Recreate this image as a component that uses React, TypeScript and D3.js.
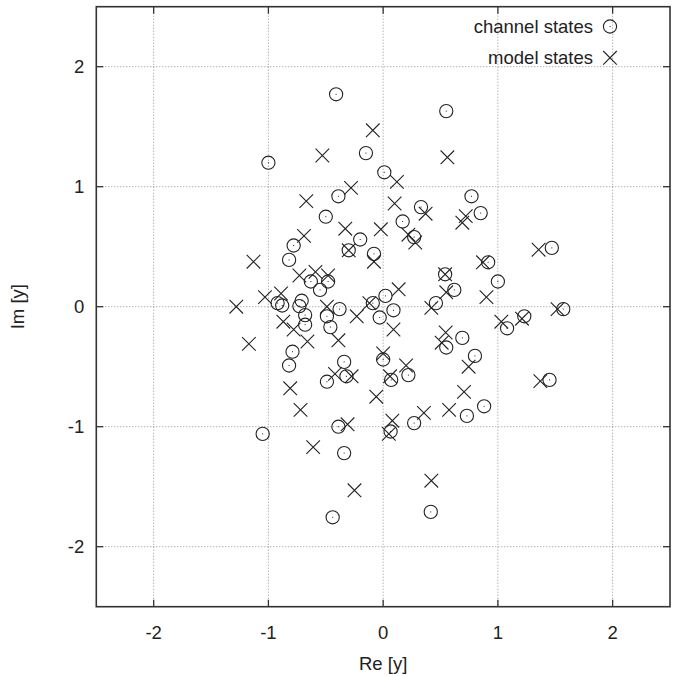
import React from "react";
import * as d3 from "d3";

// channel states (circles): [Re, Im]
const channelStates: [number, number][] = [
  [-0.41, 1.77], [-0.15, 1.28], [-1.0, 1.2], [0.01, 1.12], [-0.39, 0.92],
  [0.55, 1.63], [0.77, 0.92], [-0.5, 0.75], [-0.2, 0.56], [-0.78, 0.51],
  [-0.3, 0.47], [-0.08, 0.44], [-0.82, 0.39], [-0.63, 0.21], [-0.48, 0.21],
  [-0.55, 0.14], [0.02, 0.09], [-0.92, 0.03], [-0.88, 0.01], [-0.71, 0.05],
  [-0.73, 0.005], [-0.68, -0.07], [-0.68, -0.15], [-0.49, -0.08], [-0.38, -0.02],
  [-0.46, -0.17], [-0.09, 0.03], [-0.03, -0.09], [-0.79, -0.375], [-0.82, -0.49],
  [-0.34, -0.46], [-0.49, -0.625], [-0.32, -0.58], [0.0, -0.44], [0.07, -0.61],
  [-1.05, -1.06], [-0.39, -1.0], [-0.34, -1.22], [-0.44, -1.755], [0.33, 0.83],
  [0.85, 0.78], [0.17, 0.71], [0.27, 0.58], [1.47, 0.49], [0.915, 0.37],
  [1.0, 0.21], [0.54, 0.27], [0.62, 0.14], [0.46, 0.03], [0.09, -0.03],
  [1.57, -0.02], [1.08, -0.18], [1.23, -0.08], [0.69, -0.26], [0.55, -0.34],
  [0.8, -0.41], [0.22, -0.57], [1.45, -0.61], [0.065, -1.04], [0.27, -0.97],
  [0.73, -0.91], [0.88, -0.83], [0.415, -1.71],
];

// model states (crosses)
const modelStates: [number, number][] = [
  [-0.09, 1.47], [-0.53, 1.26], [-0.28, 0.99], [-0.67, 0.88], [0.56, 1.245],
  [0.12, 1.04], [0.1, 0.86], [-0.33, 0.65], [-0.02, 0.645], [-0.69, 0.59],
  [-0.3, 0.47], [-0.08, 0.375], [-1.13, 0.375], [-0.73, 0.26], [-0.59, 0.29],
  [-0.48, 0.26], [-1.03, 0.08], [-0.89, 0.11], [-1.28, 0.0], [-0.87, -0.125],
  [-0.78, -0.19], [-0.66, -0.29], [-0.49, 0.0], [-0.23, -0.08], [-0.39, -0.28],
  [-0.12, 0.03], [-1.17, -0.31], [-0.42, -0.56], [-0.275, -0.58], [-0.81, -0.68],
  [0.0, -0.39], [-0.06, -0.75], [-0.72, -0.86], [-0.61, -1.17], [-0.31, -0.98],
  [-0.25, -1.53], [0.37, 0.775], [0.72, 0.755], [0.69, 0.7], [0.22, 0.6],
  [0.28, 0.535], [1.355, 0.475], [0.87, 0.37], [0.9, 0.08], [0.54, 0.27],
  [0.55, 0.12], [0.42, -0.01], [0.135, 0.145], [0.09, -0.19], [1.52, -0.02],
  [1.03, -0.125], [1.21, -0.1], [0.545, -0.215], [0.51, -0.3], [0.745, -0.5],
  [0.2, -0.49], [0.06, -0.58], [1.37, -0.62], [0.705, -0.71], [0.08, -0.95],
  [0.05, -1.06], [0.355, -0.885], [0.575, -0.86], [0.42, -1.45],
];

const xTicks = [-2, -1, 0, 1, 2];
const yTicks = [-2, -1, 0, 1, 2];
const legendLabels = ["channel states", "model states"];

const width = 678;
const height = 677;
const margin = { top: 6.7, right: 8, bottom: 70.3, left: 96.3 };
const ink = "#222";
const font = "'Liberation Sans', Arial, sans-serif";

function Circle({ x, y }: { x: number; y: number }) {
  return (
    <g>
      <circle cx={x} cy={y} r={6.6} fill="none" stroke={ink} strokeWidth={1.1} />
      <rect x={x - 0.5} y={y - 0.5} width={1} height={1} fill={ink} />
    </g>
  );
}

function Cross({ x, y }: { x: number; y: number }) {
  const s = 6.8;
  return (
    <path
      d={`M${x - s},${y - s}L${x + s},${y + s}M${x - s},${y + s}L${x + s},${y - s}`}
      stroke={ink}
      strokeWidth={1.1}
      fill="none"
    />
  );
}

export default function App() {
  const x = d3
    .scaleLinear()
    .domain([-2.5, 2.5])
    .range([margin.left, width - margin.right]);
  const y = d3
    .scaleLinear()
    .domain([-2.5, 2.5])
    .range([height - margin.bottom, margin.top]);

  const x0 = x.range()[0];
  const x1 = x.range()[1];
  const y0 = y.range()[1];
  const y1 = y.range()[0];
  const tickLen = 7;

  return (
    <svg
      width={width}
      height={height}
      style={{ position: "absolute", left: 0, top: 0, background: "#fff" }}
      fontFamily={font}
    >
      {/* grid */}
      <g stroke="#777" strokeWidth={0.8} strokeDasharray="1,2">
        {xTicks.map((t) => (
          <line key={`gx${t}`} x1={x(t)} x2={x(t)} y1={y0} y2={y1} />
        ))}
        {yTicks.map((t) => (
          <line key={`gy${t}`} x1={x0} x2={x1} y1={y(t)} y2={y(t)} />
        ))}
      </g>

      {/* ticks */}
      <g stroke="#333" strokeWidth={1.3}>
        {xTicks.map((t) => (
          <g key={`tx${t}`}>
            <line x1={x(t)} x2={x(t)} y1={y1} y2={y1 - tickLen} />
            <line x1={x(t)} x2={x(t)} y1={y0} y2={y0 + tickLen} />
          </g>
        ))}
        {yTicks.map((t) => (
          <g key={`ty${t}`}>
            <line x1={x0} x2={x0 + tickLen} y1={y(t)} y2={y(t)} />
            <line x1={x1} x2={x1 - tickLen} y1={y(t)} y2={y(t)} />
          </g>
        ))}
      </g>

      {/* points */}
      {channelStates.map(([re, im], i) => (
        <Circle key={`c${i}`} x={x(re)} y={y(im)} />
      ))}
      {modelStates.map(([re, im], i) => (
        <Cross key={`m${i}`} x={x(re)} y={y(im)} />
      ))}

      {/* frame */}
      <rect
        x={x0}
        y={y0}
        width={x1 - x0}
        height={y1 - y0}
        fill="none"
        stroke="#333"
        strokeWidth={1.6}
      />

      {/* tick labels */}
      <g fontSize={18.5} fill="#222">
        {xTicks.map((t) => (
          <text key={`lx${t}`} x={x(t)} y={y1 + 32} textAnchor="middle">
            {t}
          </text>
        ))}
        {yTicks.map((t) => (
          <text key={`ly${t}`} x={x0 - 12} y={y(t)} dy="0.35em" textAnchor="end">
            {t}
          </text>
        ))}
      </g>

      {/* axis titles */}
      <text x={x(0)} y={y1 + 63} textAnchor="middle" fontSize={18.5} fill="#222">
        Re [y]
      </text>
      <text
        transform={`translate(24, ${y(0)}) rotate(-90)`}
        textAnchor="middle"
        fontSize={18.5}
        fill="#222"
      >
        Im [y]
      </text>

      {/* legend */}
      <g fontSize={18.5} fill="#222">
        {legendLabels.map((label, i) => {
          const ly = 26.5 + i * 31.3;
          return (
            <g key={label}>
              <text x={593} y={ly} dy="0.35em" textAnchor="end">
                {label}
              </text>
              {i === 0 ? <Circle x={610} y={ly} /> : <Cross x={610} y={ly} />}
            </g>
          );
        })}
      </g>
    </svg>
  );
}
